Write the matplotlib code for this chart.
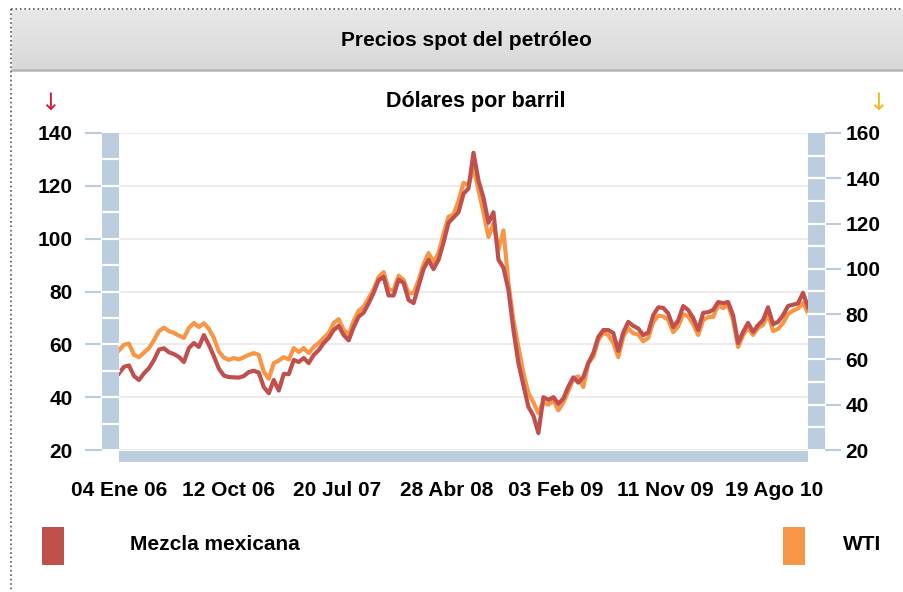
import matplotlib
matplotlib.use('Agg')
import matplotlib.pyplot as plt
import matplotlib.transforms as mtransforms
from matplotlib.patches import Rectangle
from matplotlib.lines import Line2D
from matplotlib.colors import LinearSegmentedColormap
import numpy as np
import pandas as pd

plt.rcParams['font.family'] = ['Liberation Sans', 'DejaVu Sans']
plt.rcParams['font.weight'] = 'bold'

# Mezcla mexicana (left axis), USD per barrel, sampled about every 13 days
mezcla = [49.0, 51.5, 52.0, 48.0, 46.5, 49.0, 51.0, 54.0, 58.0, 58.5,
          57.0, 56.3, 55.2, 53.3, 58.6, 60.5, 59.0, 63.5, 59.8, 55.5,
          50.8, 48.2, 47.6, 47.5, 47.4, 48.0, 49.5, 50.0, 49.3, 43.8,
          41.5, 46.5, 42.5, 48.8, 48.7, 54.1, 53.3, 54.8, 52.9, 56.0,
          57.8, 60.5, 62.4, 65.4, 67.0, 63.5, 61.5, 66.5, 70.5, 72.0,
          75.5, 79.5, 84.3, 85.5, 78.5, 78.5, 84.5, 83.2, 76.8, 75.6,
          82.0, 88.5, 92.0, 88.5, 92.0, 98.5, 106.0, 108.0, 110.0, 117.0,
          119.0, 132.5, 122.0, 115.5, 106.0, 110.0, 92.0, 89.0, 80.6, 65.5,
          52.9, 44.5, 36.3, 33.0, 26.4, 40.0, 39.0, 40.0, 37.5, 39.5,
          44.0, 47.5, 45.5, 47.6, 52.9, 56.7, 62.8, 65.4, 65.4, 64.3,
          57.5, 64.5, 68.5, 67.0, 66.0, 63.5, 64.5, 71.0, 74.0, 73.8,
          71.7, 66.5, 69.0, 74.5, 73.0, 70.0, 65.4, 71.9, 72.2, 73.0,
          76.0, 75.6, 76.0, 71.0, 60.5, 64.7, 68.1, 64.7, 67.3, 69.2,
          74.0, 67.6, 68.5, 71.0, 74.5, 75.0, 75.5, 79.5, 74.1]

# WTI (right axis)
wti = [64.0, 66.5, 67.0, 62.0, 61.0, 63.0, 65.0, 68.5, 72.5, 74.0,
       72.5, 71.7, 70.5, 69.5, 73.9, 76.1, 74.3, 76.0, 73.5, 69.5,
       63.5, 60.8, 59.8, 60.6, 60.0, 61.0, 62.0, 62.8, 62.0, 54.5,
       51.5, 58.4, 59.5, 61.0, 60.0, 65.0, 63.3, 65.0, 62.8, 65.5,
       67.3, 69.5, 71.7, 76.1, 77.8, 73.0, 71.0, 77.0, 81.5, 83.2,
       87.0, 91.0, 96.4, 98.6, 91.0, 90.5, 97.0, 95.1, 89.3, 89.3,
       95.0, 102.0, 107.0, 103.0, 107.0, 115.5, 123.0, 124.0, 130.0, 138.0,
       137.0, 144.5, 135.0, 125.0, 114.1, 120.0, 108.3, 117.0, 93.8, 77.5,
       65.5, 54.0, 45.2, 41.0, 36.3, 41.0, 40.0, 42.0, 37.5, 41.0,
       46.0, 51.5, 52.5, 47.8, 58.4, 61.1, 68.6, 71.7, 70.8, 67.3,
       61.0, 70.0, 73.8, 71.5, 71.0, 68.0, 69.5, 76.5, 79.3, 79.0,
       77.5, 72.0, 74.5, 80.0, 79.0, 75.5, 70.8, 77.4, 78.7, 78.7,
       84.0, 82.7, 84.0, 77.5, 65.5, 70.8, 73.9, 70.8, 73.9, 75.2,
       80.0, 72.5, 73.5, 76.0, 80.0, 81.5, 82.5, 85.0, 80.5]

start_date = '2006-01-04'
end_date = '2010-11-14'
xtick_dates = ['2006-01-04', '2006-10-12', '2007-07-20', '2008-04-28',
               '2009-02-03', '2009-11-11', '2010-08-19']
xtick_labels = ['04 Ene 06', '12 Oct 06', '20 Jul 07', '28 Abr 08',
                '03 Feb 09', '11 Nov 09', '19 Ago 10']
left_ticks = [20, 40, 60, 80, 100, 120, 140]
right_ticks = [20, 40, 60, 80, 100, 120, 140, 160]

dates = pd.date_range(start_date, end_date, periods=len(mezcla))

RED = '#c0504d'
ORANGE = '#f79646'
BAR = '#bccde0'
W, H = 904, 592


def fx(px):
    return px / W


def fy(py):
    return 1 - py / H


fig = plt.figure(figsize=(W / 100, H / 100), dpi=100)

# header band
band = fig.add_axes([fx(12), fy(70), 1 - fx(12), fy(10) - fy(70)])
grad = np.linspace(0, 1, 60).reshape(-1, 1)
band.imshow(grad, aspect='auto',
            cmap=LinearSegmentedColormap.from_list('g', ['#e8e8e8', '#d8d8d8']))
band.axis('off')
fig.add_artist(Line2D([fx(12), 1], [fy(70), fy(70)], color='#b4b4b4', lw=1.8))
fig.add_artist(Line2D([fx(11), fx(11)], [fy(9), 0], color='#555555', lw=1.2, ls=':'))
fig.add_artist(Line2D([fx(11), 1], [fy(9), fy(9)], color='#555555', lw=1.2, ls=':'))

fig.text(fx(466), fy(41), 'Precios spot del petróleo', ha='center', va='center',
         fontsize=15)
fig.text(fx(476), fy(101), 'Dólares por barril', ha='center', va='center',
         fontsize=15.5)
fig.text(fx(50), fy(103), '↓', ha='center', va='center', fontsize=17,
         color='#d0213a', fontweight='normal', family='DejaVu Sans')
fig.text(fx(878), fy(103), '↓', ha='center', va='center', fontsize=17,
         color='#f6b81e', fontweight='normal', family='DejaVu Sans')

# main axes
ax = fig.add_axes([fx(119), fy(450), fx(808) - fx(119), fy(133) - fy(450)])
ax2 = ax.twinx()

ax.set_ylim(20, 140)
ax2.set_ylim(20, 160)
ax.set_xlim(pd.Timestamp(start_date), pd.Timestamp(end_date))

ax.set_yticks(left_ticks)
ax2.set_yticks(right_ticks)
ax.grid(axis='y', color='#ececec', lw=1.5)
ax.set_axisbelow(True)

for a in (ax, ax2):
    for s in a.spines.values():
        s.set_visible(False)
ax.spines['left'].set_position(('outward', 17 * 0.72))
ax2.spines['right'].set_position(('outward', 17 * 0.72))

ax.tick_params(axis='y', length=17 * 0.72, width=1.5, color=BAR, pad=9,
               labelsize=15)
ax2.tick_params(axis='y', length=16 * 0.72, width=1.5, color=BAR, pad=3,
                labelsize=15)

ax.set_xticks(pd.to_datetime(xtick_dates))
ax.set_xticklabels(xtick_labels)
ax.tick_params(axis='x', length=0, pad=22, labelsize=15)

# lines: WTI on the right scale, Mezcla drawn on top with the left scale
ax2.plot(dates, wti, color=ORANGE, lw=3.0)
ax2.plot(dates, mezcla, color=RED, lw=3.0, transform=ax.transData)

# blue frame bars
fig.add_artist(Rectangle((fx(102), fy(449)), fx(119) - fx(102), fy(133) - fy(449),
                         transform=fig.transFigure, color=BAR, lw=0))
fig.add_artist(Rectangle((fx(808), fy(449)), fx(825) - fx(808), fy(133) - fy(449),
                         transform=fig.transFigure, color=BAR, lw=0))
fig.add_artist(Rectangle((fx(119), fy(462)), fx(808) - fx(119), fy(451) - fy(462),
                         transform=fig.transFigure, color=BAR, lw=0))
blend_l = mtransforms.blended_transform_factory(fig.transFigure, ax.transData)
blend_r = mtransforms.blended_transform_factory(fig.transFigure, ax2.transData)
for v in range(30, 140, 10):
    fig.add_artist(Line2D([fx(102), fx(119)], [v, v], transform=blend_l,
                          color='white', lw=1.6))
for v in range(30, 160, 10):
    fig.add_artist(Line2D([fx(808), fx(825)], [v, v], transform=blend_r,
                          color='white', lw=1.6))

# legend
fig.add_artist(Rectangle((fx(42), fy(565)), fx(64) - fx(42), fy(527) - fy(565),
                         transform=fig.transFigure, color=RED, lw=0))
fig.add_artist(Rectangle((fx(783), fy(565)), fx(805) - fx(783), fy(527) - fy(565),
                         transform=fig.transFigure, color=ORANGE, lw=0))
fig.text(fx(130), fy(545), 'Mezcla mexicana', ha='left', va='center', fontsize=15)
fig.text(fx(843), fy(545), 'WTI', ha='left', va='center', fontsize=15)

fig.savefig('out.png', dpi=100)
